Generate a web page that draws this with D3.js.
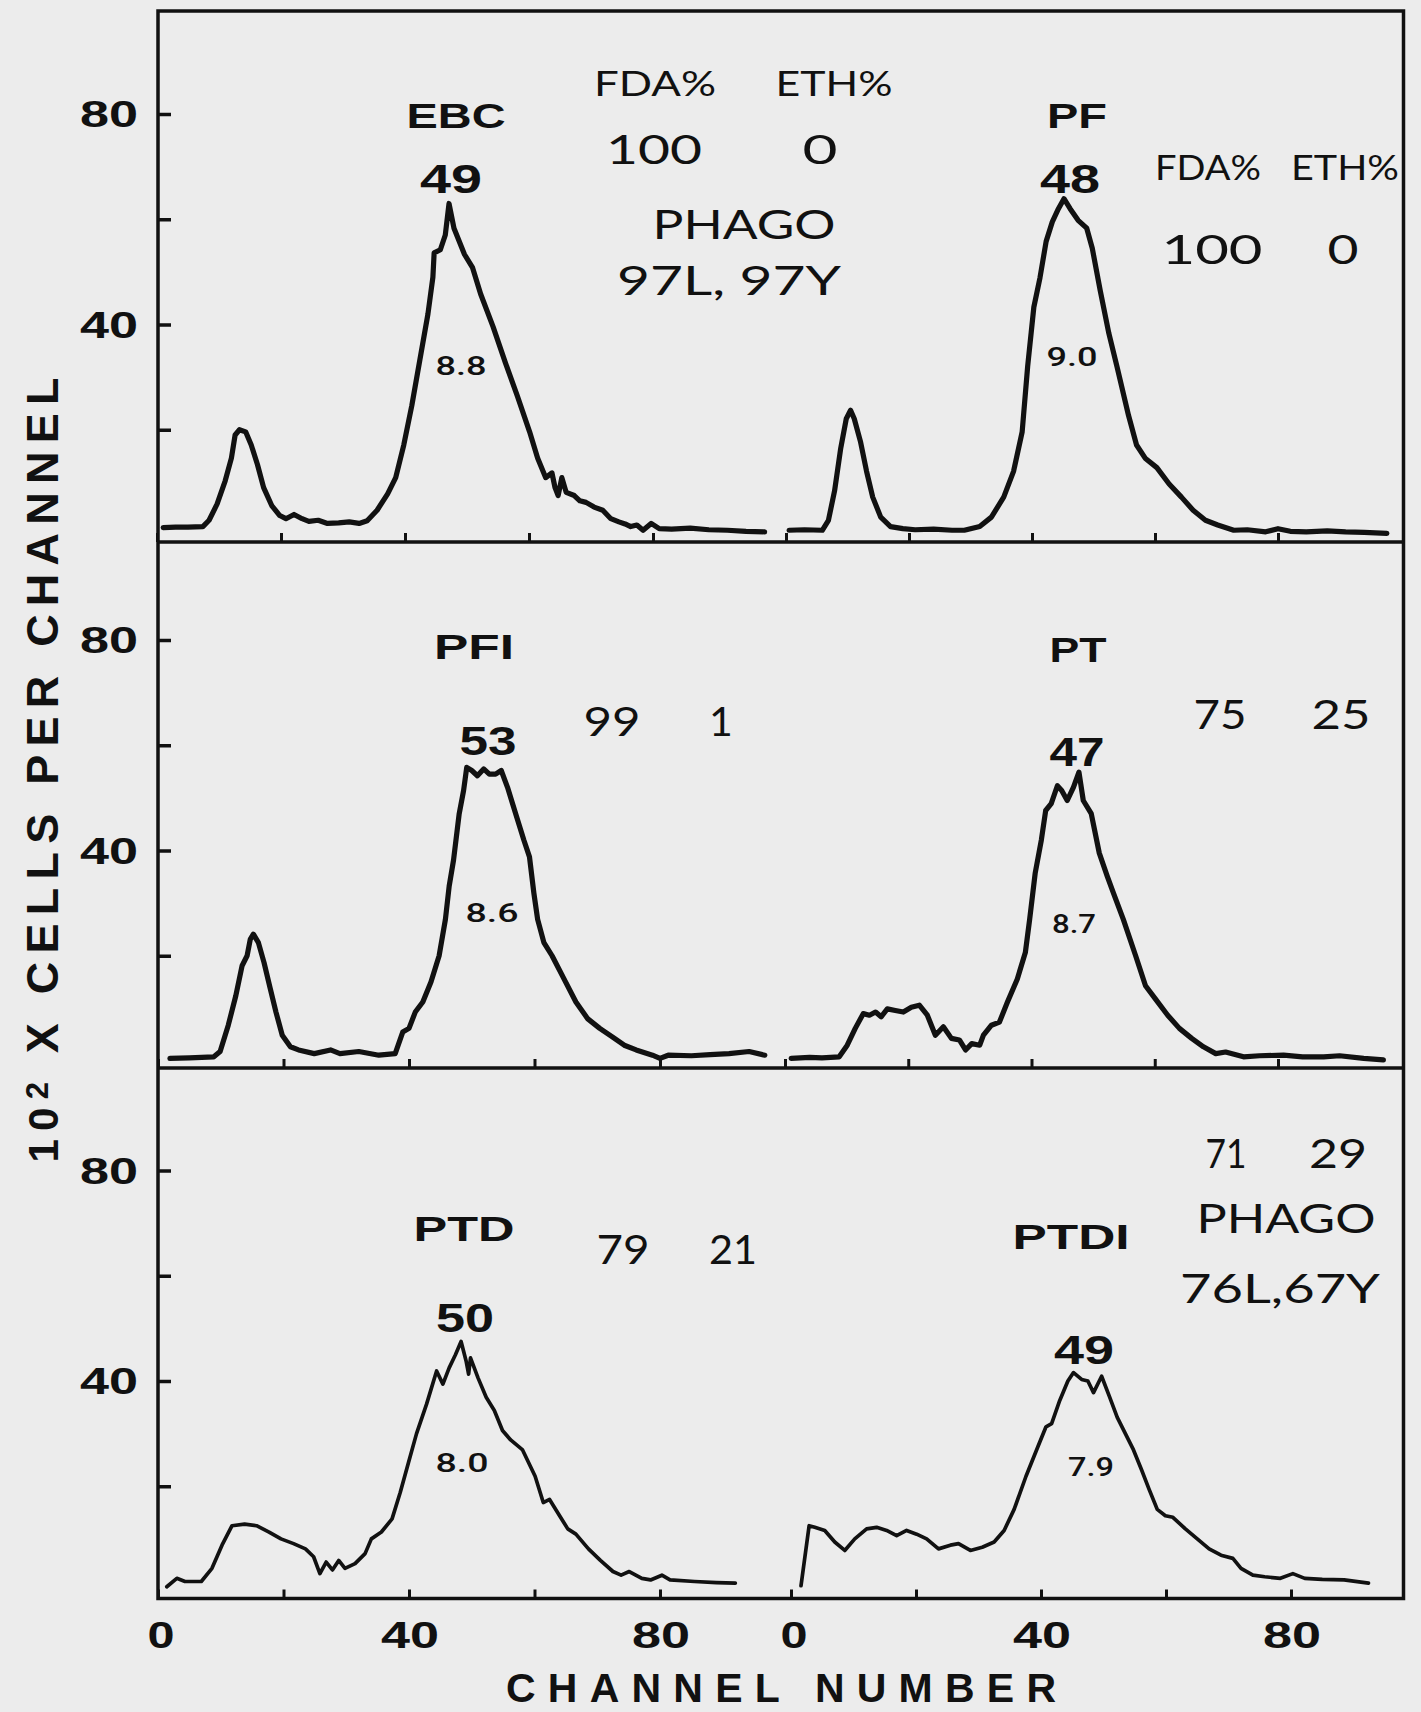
<!DOCTYPE html>
<html>
  <head>
    <title>Cell volume histograms</title>
    <script src="https://d3js.org/d3.v7.min.js"></script>
    <style>
      body { margin: 0; background: #ececec; }
    </style>
  </head>
  <body>
    <script>
      // [channel, count (x100)]
      const ebc = [[1,1.4],[3,1.5],[5,1.5],[7.4,1.6],[8.4,2.8],[9.7,5.9],[11,10.3],[12,14.6],[12.6,19],[13.3,20],[14.3,19.6],[15.2,17.1],[16.2,13.4],[17.2,9],[18.5,5.6],[19.8,3.7],[20.8,3.1],[22.1,3.9],[23.4,3.1],[24.5,2.6],[26,2.8],[27.5,2.2],[29.3,2.3],[31,2.5],[32.6,2.2],[33.9,2.7],[35.5,4.7],[37.2,7.8],[38.5,10.9],[39.8,17.1],[41.1,24.6],[42.4,33.3],[43.7,42],[44.5,49],[44.7,53.6],[45.7,54.2],[46.5,57],[47.1,63],[47.9,58.3],[49.6,53.3],[50.9,50.8],[52.2,45.8],[54.2,39.6],[56.2,32.7],[58.1,26.5],[60.1,19.6],[61.4,14.6],[62.7,10.9],[63.7,11.8],[64.2,9],[64.7,7.5],[65.3,10.9],[66,8.1],[67.3,7.5],[68.2,6.5],[69.2,6.2],[70.5,5.3],[71.9,4.7],[73.2,3.1],[74.5,2.5],[75.5,2.1],[76.4,1.6],[77.4,1.9],[78.4,0.9],[79.7,2.2],[81,1.2],[83,1.1],[86,1.3],[89,1.0],[92,0.9],[95,0.7],[98,0.6]];
      const pf = [[0.5,0.9],[3,1.0],[5.9,0.9],[6.9,2.8],[7.9,8.4],[8.9,16.5],[9.8,22.1],[10.5,23.7],[11.1,22.1],[12.1,17.8],[13.1,12.1],[14.1,7.2],[15.4,3.4],[17,1.6],[19,1.2],[21,1.0],[24,1.1],[27,0.9],[29,0.9],[31.5,1.6],[33.4,3.4],[35.4,7.2],[37,12.1],[38.4,19.6],[39.3,32.1],[40.3,43.3],[41.3,48.9],[42.3,55.8],[43.3,59.5],[44.3,62],[45.2,63.9],[46.2,62],[47.5,59.8],[48.9,58.3],[49.8,54.5],[51.1,46.4],[52.5,38.3],[53.8,32.1],[55.7,22.7],[57,17.1],[58.4,14.6],[60.3,12.8],[62.3,9.7],[64.3,7.2],[66.2,4.7],[68.2,2.8],[70.2,1.9],[72.8,0.9],[75,1.0],[78,0.6],[80,1.2],[82,0.7],[84.6,0.6],[88,0.8],[91,0.6],[94,0.5],[97.7,0.3]];
      const pfi = [[1.9,0.5],[5,0.6],[8.9,0.8],[9.9,1.8],[11.2,6.8],[12.4,12.4],[13.4,18.1],[14.2,20],[14.7,23.1],[15.2,24.1],[16,22.5],[16.9,18.7],[17.9,13.7],[18.8,9.3],[19.8,4.9],[21.1,2.7],[22.4,2.1],[24.9,1.4],[27.5,2.1],[29,1.4],[32,1.8],[35.2,1.1],[37.8,1.4],[39,5.5],[40,6.2],[41,9.3],[42.2,11.2],[43.5,15],[44.8,20],[45.8,26.9],[46.4,33.2],[47.1,38.2],[48,47],[48.7,51.4],[49.2,55.8],[50,55.2],[50.9,54.2],[51.9,55.5],[52.8,54.5],[53.8,54.5],[54.7,55.2],[55.7,52],[57,47],[58.3,42],[59.2,38.8],[59.9,31.9],[60.5,26.9],[61.5,22.5],[62.8,20],[64.7,15.6],[66.6,11.2],[68.5,8],[70.4,6.2],[72.4,4.6],[74.3,3],[76.2,2.1],[78.8,1.1],[80,0.5],[81.3,1.1],[85,1.0],[88,1.2],[91,1.4],[94.2,1.8],[96.7,1.1]];
      const pt = [[1,0.5],[4,0.7],[6,0.6],[8.8,0.8],[10.1,3],[11.4,6.2],[12.7,9],[13.7,8.7],[14.7,9.3],[15.6,8.4],[16.6,9.9],[17.9,9.6],[19.2,9.3],[20.5,10.2],[21.8,10.6],[23.1,8.7],[24.4,4.9],[25.7,6.5],[27,4.3],[28.3,4],[29.3,2.1],[30.3,3.3],[31.6,3],[32.2,4.9],[33.5,6.8],[34.8,7.4],[36.1,11.2],[37.7,15.6],[39,20.6],[39.7,26.9],[40.6,35.7],[41.6,42],[42.3,47.6],[43.2,48.9],[44.2,52.3],[44.9,51.4],[45.8,49.5],[46.8,52],[47.7,54.9],[48.4,49.5],[49.7,47],[51,39.5],[52.3,35.1],[53.3,31.9],[54.9,26.9],[56.9,20],[58.5,14.3],[60.1,11.8],[62.1,8.7],[64,6.2],[66,4.3],[67.9,2.7],[69.9,1.4],[71.5,1.7],[74.4,0.8],[77,1.0],[80.9,1.1],[84,0.8],[87.4,0.8],[90,1.0],[93.9,0.5],[97.1,0.2]];
      const ptd = [[1.4,0.9],[3,2.5],[4.3,1.9],[6.9,1.9],[8.6,4.4],[10.2,8.8],[11.8,12.5],[13.8,12.8],[15.7,12.5],[17.7,11.3],[19.6,10],[21.6,9.1],[23.5,8.1],[24.8,6.6],[25.8,3.4],[26.8,5.6],[27.8,4.1],[28.8,5.9],[29.8,4.4],[31.4,5.3],[33,7.2],[34,10],[35.6,11.3],[37.3,13.8],[38.6,18.8],[39.9,24.4],[41.2,30],[42.8,35.6],[44.4,41.9],[45.4,39.4],[46.4,42.5],[47.4,45],[48.3,47.5],[49.1,43.8],[49.5,41.3],[49.8,44.4],[51,40.6],[52.3,36.9],[53.6,34.4],[54.9,30.6],[56.2,28.8],[58.1,26.9],[60.1,21.9],[61.4,16.9],[62.4,17.5],[64,14.4],[65.3,11.9],[66.6,10.9],[68.6,8.1],[70.5,5.9],[72.5,3.8],[73.8,3.1],[75.1,3.8],[77.1,2.5],[78.5,2.2],[80.3,3.1],[81.6,2.2],[85.5,1.9],[89,1.7],[92,1.6]];
      const ptdi = [[1.6,1.1],[2.9,12.5],[3.8,12.2],[5.4,11.6],[7,9.4],[8.6,7.8],[10.2,10],[12.1,11.9],[13.7,12.2],[15.3,11.6],[16.9,10.6],[18.5,11.6],[20.1,10.9],[21.7,10],[23.6,8.1],[25.5,8.8],[26.8,9.1],[28.7,7.8],[30.6,8.4],[32.5,9.4],[34.1,11.6],[35.7,15.6],[37.6,21.9],[39.5,27.5],[40.8,31.3],[41.7,31.9],[43,36.3],[44.3,40],[45.2,41.6],[46.5,40.3],[47.5,40],[48.4,37.8],[49.7,40.9],[51,36.9],[52.2,33.1],[53.5,30],[54.8,26.9],[56.1,23.1],[57.3,19.4],[58.6,15.6],[59.9,14.4],[61.1,14.1],[63.1,11.9],[65,10],[66.9,8.1],[68.8,6.9],[70.7,6.3],[72,4.4],[73.9,3.1],[75.8,2.8],[78.3,2.5],[80.3,3.4],[82.2,2.5],[85,2.3],[88.5,2.2],[92.4,1.6]];

      const sampleNames = ["EBC", "PF", "PFI", "PT", "PTD", "PTDI"];
      const peakChannel = ["49", "48", "53", "47", "50", "49"];
      const cvValues = ["8.8", "9.0", "8.6", "8.7", "8.0", "7.9"];
      const fdaPct = ["100", "100", "99", "75", "79", "71"];
      const ethPct = ["0", "0", "1", "25", "21", "29"];
      const phago = ["97L, 97Y", "", "", "", "", "76L,67Y"];
      const headers = ["FDA%", "ETH%"];
      const yTicks = [20, 40, 60, 80];
      const yTickLabels = [40, 80];
      const xTicks = [0, 20, 40, 60, 80];
      const xTickLabels = [0, 40, 80];

      const W = 1421, H = 1712;
      const ink = "#111";
      const bold = "'Liberation Sans', Arial, sans-serif";
      const thin = "Lato, 'Liberation Sans', sans-serif";

      const svg = d3.select("body").append("svg").attr("width", W).attr("height", H);
      svg.append("rect").attr("width", W).attr("height", H).attr("fill", "#ececec");

      const frameL = 158, frameR = 1403.5;
      const rowTop = [11, 542, 1068];
      const rowBot = [542, 1068, 1598.5];

      // the photographed sheet is slightly distorted, so each row gets its own
      // pixel span for channels 0 and 80 (left half, right half)
      const xSpan = [
        [[157, 653], [786, 1278]],
        [[158, 660], [785, 1278]],
        [[158, 660], [791, 1291]]
      ];
      const xRow = xSpan.map(r => r.map(s => d3.scaleLinear().domain([0, 80]).range(s)));
      const yRow = rowBot.map(b => d3.scaleLinear().domain([0, 80]).range([b - 7, b - 7 - 421]));

      // frame and panel dividers
      svg.append("rect")
        .attr("x", frameL).attr("y", rowTop[0])
        .attr("width", frameR - frameL).attr("height", rowBot[2] - rowTop[0])
        .attr("fill", "none").attr("stroke", ink).attr("stroke-width", 3.5);
      [rowBot[0], rowBot[1]].forEach(y => {
        svg.append("line").attr("x1", frameL).attr("x2", frameR).attr("y1", y).attr("y2", y)
          .attr("stroke", ink).attr("stroke-width", 3.5);
      });

      // ticks through d3 axes
      yRow.forEach((y, r) => {
        const g = svg.append("g").attr("transform", `translate(${frameL},0)`)
          .call(d3.axisRight(y).tickValues(yTicks).tickSize(13).tickFormat(""));
        g.select(".domain").remove();
        g.selectAll("line").attr("stroke", ink).attr("stroke-width", 3.5);
        xRow[r].forEach(x => {
          const gx = svg.append("g").attr("transform", `translate(0,${rowBot[r]})`)
            .call(d3.axisTop(x).tickValues(xTicks).tickSize(9).tickFormat(""));
          gx.select(".domain").remove();
          gx.selectAll("line").attr("stroke", ink).attr("stroke-width", 3);
        });
      });

      function put(x, y, str, o) {
        const t = svg.append("text")
          .attr("x", x).attr("y", y)
          .attr("text-anchor", o.anchor || "middle")
          .attr("font-family", o.family)
          .attr("font-weight", o.weight || "normal")
          .attr("font-size", o.size)
          .attr("fill", ink)
          .text(str);
        if (o.len) t.attr("textLength", o.len).attr("lengthAdjust", o.adjust || "spacingAndGlyphs");
        return t;
      }

      // y tick labels
      yRow.forEach(y => {
        yTickLabels.forEach(v => put(138, y(v) + 13, String(v),
          { anchor: "end", family: bold, weight: "bold", size: 36, len: 58 }));
      });
      // x tick labels (bottom row scales)
      xRow[2].forEach(x => {
        xTickLabels.forEach(v => put(x(v) + (v === 0 ? 3 : 1), 1648, String(v),
          { family: bold, weight: "bold", size: 37, len: v === 0 ? 27 : 58 }));
      });

      // axis titles
      put(781, 1702, "CHANNEL NUMBER", { family: bold, weight: "bold", size: 41, len: 550, adjust: "spacing" });
      const yt = svg.append("text")
        .attr("transform", "translate(58,770) rotate(-90)")
        .attr("text-anchor", "middle")
        .attr("font-family", bold).attr("font-weight", "bold")
        .attr("font-size", 45).attr("fill", ink)
        .attr("textLength", 785).attr("lengthAdjust", "spacing");
      yt.append("tspan").attr("font-size", 42).text("10");
      yt.append("tspan").attr("font-size", 31).attr("dy", -10).text("2");
      yt.append("tspan").attr("dy", 10).text("  X  CELLS  PER  CHANNEL");

      // histograms
      const curves = [ebc, pf, pfi, pt, ptd, ptdi];
      curves.forEach((data, i) => {
        const r = Math.floor(i / 2), x = xRow[r][i % 2], y = yRow[r];
        const line = d3.line().x(d => x(d[0])).y(d => y(d[1]));
        svg.append("path").datum(data)
          .attr("d", line)
          .attr("fill", "none").attr("stroke", ink)
          .attr("stroke-width", r === 2 ? 3.7 : 5.2)
          .attr("stroke-linejoin", "round").attr("stroke-linecap", "round");
      });

      // annotation layout (pixels): [x, baseline, width]
      const spots = [
        { name: [456, 128, 99], peak: [451, 193, 62], cv: [461, 375, 51], fda: [654, 164, 96], eth: [820, 164, 35],
          head: [[655, 96, 122], [834, 96, 117]], ph: [[744, 239, 183], [729, 295, 224]] },
        { name: [1077, 128, 60], peak: [1070, 193, 60], cv: [1072, 366, 51], fda: [1212, 264, 101], eth: [1343, 264, 31],
          head: [[1208, 180, 106], [1345, 180, 108]] },
        { name: [474, 659, 80], peak: [488, 755, 57], cv: [492, 922, 53], fda: [612, 736, 57], eth: [721, 736] },
        { name: [1078, 662, 57], peak: [1077, 766, 55], cv: [1074, 933, 44], fda: [1220, 729, 53], eth: [1341, 729, 59] },
        { name: [464, 1241, 101], peak: [465, 1332, 58], cv: [462, 1472, 53], fda: [623, 1264, 53], eth: [733, 1264, 48] },
        { name: [1071, 1249, 117], peak: [1084, 1364, 60], cv: [1091, 1476, 46], fda: [1226, 1168, 41], eth: [1338, 1168, 58],
          ph: [[1286, 1233, 179], [1280, 1303, 200]] }
      ];

      spots.forEach((s, i) => {
        put(s.name[0], s.name[1], sampleNames[i], { family: bold, weight: "bold", size: 35, len: s.name[2] });
        put(s.peak[0], s.peak[1], peakChannel[i], { family: bold, weight: "bold", size: 40, len: s.peak[2] });
        put(s.cv[0], s.cv[1], cvValues[i], { family: "Roboto, 'Liberation Sans', sans-serif", weight: 500, size: 26, len: s.cv[2] });
        put(s.fda[0], s.fda[1], fdaPct[i], { family: thin, size: 41, len: s.fda[2] });
        put(s.eth[0], s.eth[1], ethPct[i], { family: thin, size: 41, len: s.eth[2] });
        if (s.head) s.head.forEach((h, k) => put(h[0], h[1], headers[k], { family: thin, size: 34, len: h[2] }));
        if (s.ph) {
          put(s.ph[0][0], s.ph[0][1], "PHAGO", { family: thin, size: 41, len: s.ph[0][2] });
          put(s.ph[1][0], s.ph[1][1], phago[i], { family: thin, size: 40, len: s.ph[1][2] });
        }
      });
    </script>
  </body>
</html>
